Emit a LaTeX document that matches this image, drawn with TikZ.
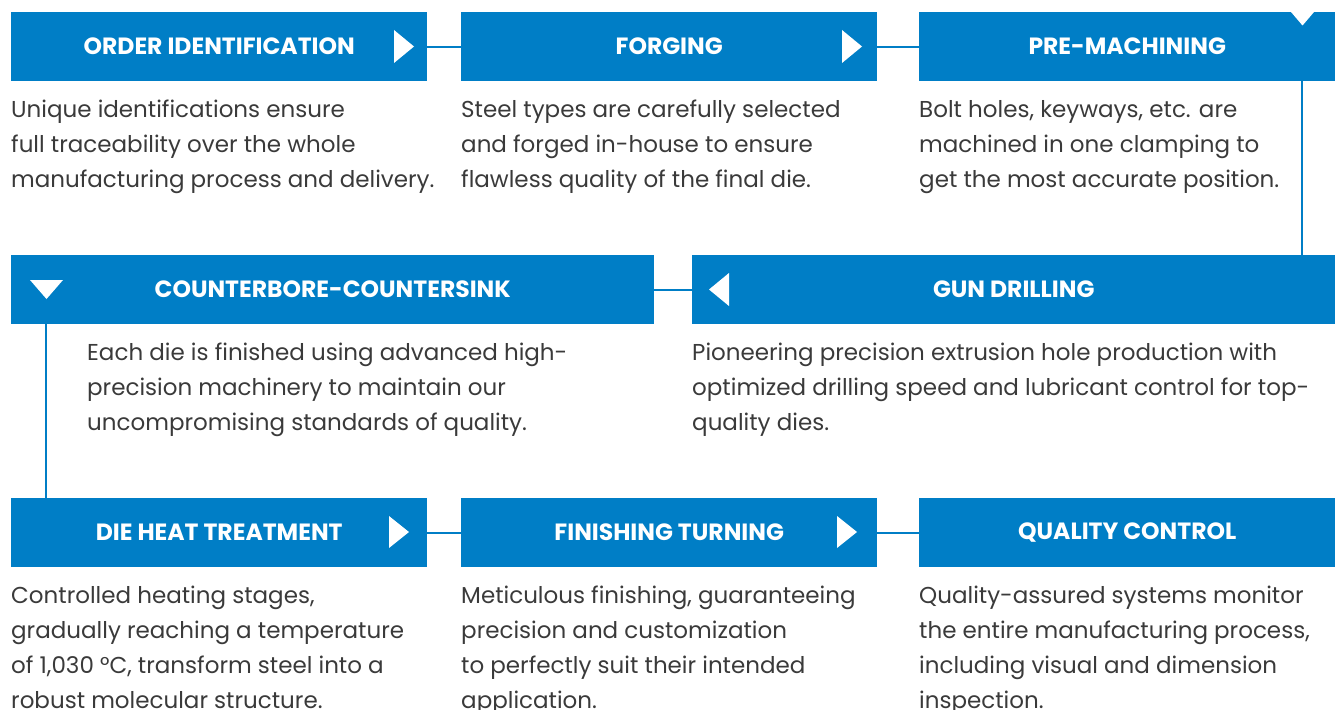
\documentclass[tikz,border=0pt]{standalone}
\usepackage{fontspec}
\setmainfont{Poppins}
\usetikzlibrary{positioning}
\definecolor{stepblue}{RGB}{0,126,198}
\definecolor{notegray}{RGB}{58,58,58}
\tikzset{
  stepbox/.style={fill=stepblue, text=white, inner sep=0pt, anchor=north west,
    minimum height=69pt, font=\fontsize{23.5}{26}\selectfont\bfseries},
  smallbox/.style={stepbox, minimum width=416pt},
  widebox/.style={stepbox, minimum width=643pt},
  stepnote/.style={text=notegray, inner sep=0pt, anchor=base west, align=left,
    font=\fontsize{23}{35}\selectfont},
  link/.style={draw=stepblue, line width=2pt},
  marker/.style={fill=white}
}
\begin{document}
\begin{tikzpicture}[x=1pt,y=-1pt]
\useasboundingbox (0,0) rectangle (1335,709);

% first row
\node[smallbox] (order) at (11,12) {ORDER IDENTIFICATION};
\node[smallbox] (forging) at (461,12) {FORGING};
\node[smallbox] (premach) at (919,12) {PRE-MACHINING};

% second row
\node[widebox] (counter) at (11,255) {COUNTERBORE-COUNTERSINK};
\node[widebox] (gun) at (692,255) {GUN DRILLING};

% third row
\node[smallbox] (heat) at (11,498) {DIE HEAT TREATMENT};
\node[smallbox] (turning) at (461,498) {FINISHING TURNING};
\node[smallbox] (quality) at (919,498) {QUALITY CONTROL};

% connectors
\draw[link] (order.east) -- (forging.west);
\draw[link] (forging.east) -- (premach.west);
\draw[link] ([xshift=-33pt]premach.south east) -- ([xshift=-33pt]gun.north east);
\draw[link] (gun.west) -- (counter.east);
\draw[link] ([xshift=35pt]counter.south west) -- ([xshift=35pt]heat.north west);
\draw[link] (heat.east) -- (turning.west);
\draw[link] (turning.east) -- (quality.west);

% arrow marks
\fill[marker] (394,30) -- (414,46.5) -- (394,63) -- cycle;
\fill[marker] (842,30) -- (862,46.5) -- (842,63) -- cycle;
\fill[marker] (1291,12) -- (1314,12) -- (1302.5,25.5) -- cycle;
\fill[marker] (729,273) -- (709,289.5) -- (729,306) -- cycle;
\fill[marker] (30,280) -- (63,280) -- (46.5,299) -- cycle;
\fill[marker] (389,516) -- (409,532) -- (389,548) -- cycle;
\fill[marker] (837,516) -- (857,532) -- (837,548) -- cycle;

% descriptions (placed at the baseline of the last line)
\node[stepnote] (ordernote) at (11,187) {Unique identifications ensure\\full traceability over the whole\\manufacturing process and delivery.};
\node[stepnote] (forgingnote) at (461,187) {Steel types are carefully selected\\and forged in-house to ensure\\flawless quality of the final die.};
\node[stepnote] (premachnote) at (919,187) {Bolt holes, keyways, etc. are\\machined in one clamping to\\get the most accurate position.};
\node[stepnote] (counternote) at (87,430) {Each die is finished using advanced high-\\precision machinery to maintain our\\uncompromising standards of quality.};
\node[stepnote] (gunnote) at (692,430) {Pioneering precision extrusion hole production with\\optimized drilling speed and lubricant control for top-\\quality dies.};
\node[stepnote] (heatnote) at (11,708) {Controlled heating stages,\\gradually reaching a temperature\\of 1,030 °C, transform steel into a\\robust molecular structure.};
\node[stepnote] (turningnote) at (461,708) {Meticulous finishing, guaranteeing\\precision and customization\\to perfectly suit their intended\\application.};
\node[stepnote] (qualitynote) at (919,708) {Quality-assured systems monitor\\the entire manufacturing process,\\including visual and dimension\\inspection.};
\end{tikzpicture}
\end{document}
